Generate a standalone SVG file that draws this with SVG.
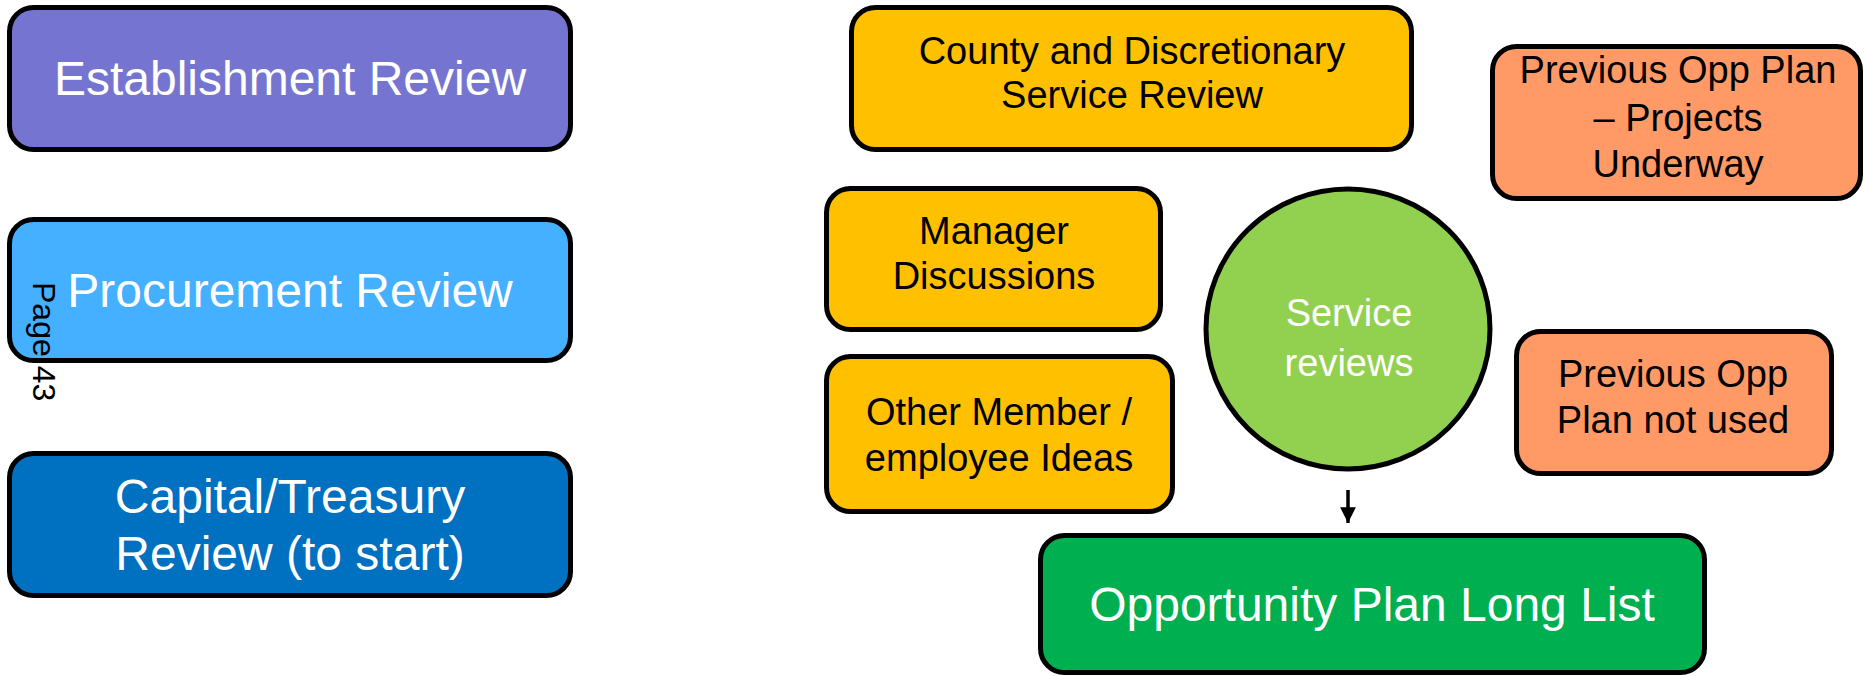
<svg xmlns="http://www.w3.org/2000/svg" width="1865" height="676" viewBox="0 0 1865 676">
<defs>
<style>
.box{stroke:#000;stroke-width:5}
.t{font-family:"Liberation Sans",Arial,sans-serif;text-anchor:middle}
.w{fill:#fff}
.k{fill:#000}
.big{font-size:48px}
.med{font-size:38px}
</style>
<marker id="ah" viewBox="0 0 10 10" refX="10" refY="5" markerWidth="5" markerHeight="4.5" orient="auto" markerUnits="strokeWidth">
<path d="M0,0 L10,5 L0,10 Z" fill="#000"/>
</marker>
</defs>
<rect width="1865" height="676" fill="#fff"/>
<g id="establishment">
<rect class="box" x="9.5" y="7.5" width="561" height="142" rx="24" fill="#7575D1"/>
<text class="t w big" x="290" y="95">Establishment Review</text>
</g>
<g id="procurement">
<rect class="box" x="9.5" y="219.5" width="561" height="141" rx="24" fill="#45B0FF"/>
<text class="t w big" x="290" y="307">Procurement Review</text>
</g>
<g id="page-label">
<text transform="translate(33,282) rotate(90)" font-family="Liberation Sans,Arial,sans-serif" font-size="32" fill="#000">Page 43</text>
</g>
<g id="capital">
<rect class="box" x="9.5" y="453.5" width="561" height="142" rx="24" fill="#0070C0"/>
<text class="t w big" x="290" y="513">Capital/Treasury</text>
<text class="t w big" x="290" y="570">Review (to start)</text>
</g>
<g id="county">
<rect class="box" x="851.5" y="7.5" width="560" height="142" rx="24" fill="#FFC000"/>
<text class="t k med" x="1132" y="64">County and Discretionary</text>
<text class="t k med" x="1132" y="108">Service Review</text>
</g>
<g id="prev-underway">
<rect class="box" x="1492.5" y="46.5" width="368" height="152" rx="24" fill="#FF9966"/>
<text class="t k med" x="1678" y="83">Previous Opp Plan</text>
<text class="t k med" x="1678" y="131">– Projects</text>
<text class="t k med" x="1678" y="177">Underway</text>
</g>
<g id="manager">
<rect class="box" x="826.5" y="188.5" width="334" height="141" rx="24" fill="#FFC000"/>
<text class="t k med" x="994" y="244">Manager</text>
<text class="t k med" x="994" y="289">Discussions</text>
</g>
<g id="other">
<rect class="box" x="826.5" y="356.5" width="346" height="155" rx="24" fill="#FFC000"/>
<text class="t k med" x="999" y="425">Other Member /</text>
<text class="t k med" x="999" y="471">employee Ideas</text>
</g>
<g id="service">
<ellipse class="box" cx="1348" cy="329" rx="142" ry="140" fill="#92D050"/>
<text class="t w med" x="1349" y="326">Service</text>
<text class="t w med" x="1349" y="376">reviews</text>
</g>
<g id="prev-notused">
<rect class="box" x="1516.5" y="331.5" width="315" height="142" rx="24" fill="#FF9966"/>
<text class="t k med" x="1673" y="387">Previous Opp</text>
<text class="t k med" x="1673" y="433">Plan not used</text>
</g>
<g id="longlist">
<rect class="box" x="1040.5" y="535.5" width="664" height="137" rx="24" fill="#00B050"/>
<text class="t w big" x="1372" y="621">Opportunity Plan Long List</text>
</g>
<g id="connectors">
<line x1="1348" y1="490" x2="1348" y2="523" stroke="#000" stroke-width="3.5" marker-end="url(#ah)"/>
</g>
</svg>
